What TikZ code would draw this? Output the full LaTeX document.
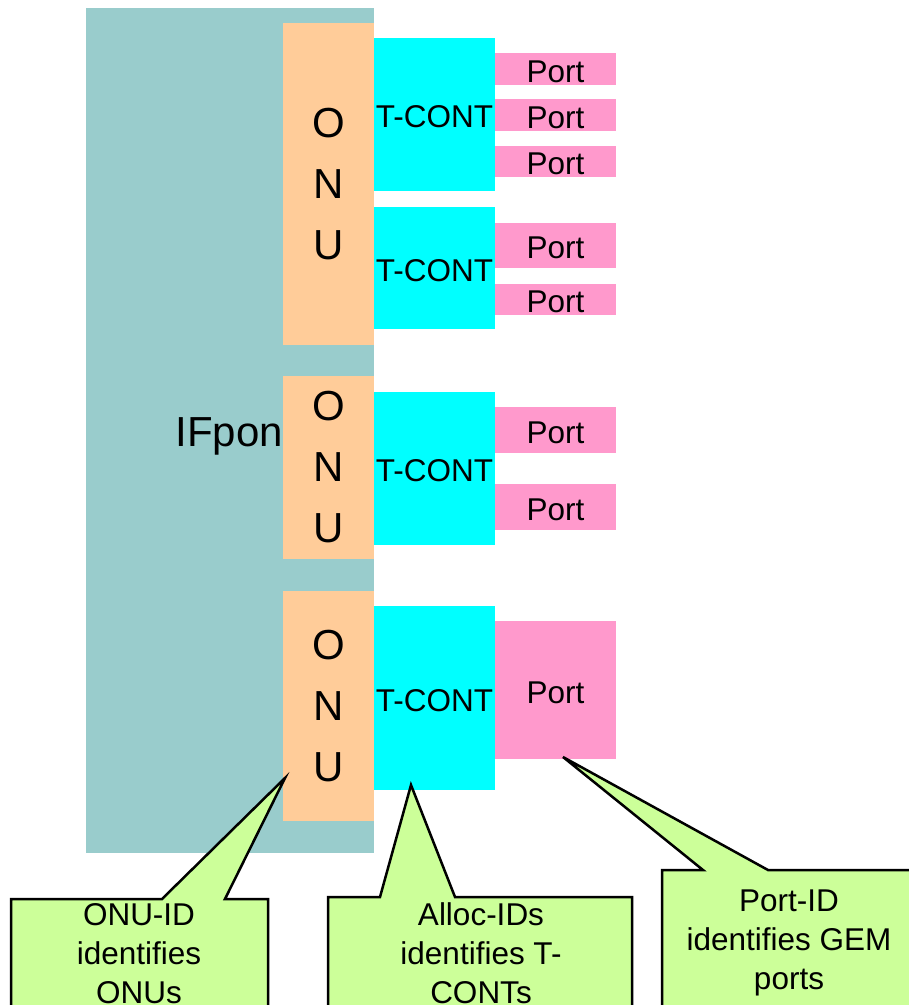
\documentclass[tikz,border=0pt]{standalone}
\usepackage{fontspec}
\setmainfont{Liberation Sans}
\definecolor{ifpon}{HTML}{99CCCC}
\definecolor{onu}{HTML}{FFCC99}
\definecolor{tcont}{HTML}{00FFFF}
\definecolor{port}{HTML}{FF99CC}
\definecolor{callout}{HTML}{CCFF99}
\begin{document}
\begin{tikzpicture}[x=1pt,y=-1pt,
  blk/.style={anchor=north west, inner sep=0pt, outer sep=0pt, draw=none},
  ifbox/.style={blk, fill=ifpon},
  onubox/.style={blk, fill=onu, align=center, font=\fontsize{42}{61}\selectfont},
  tcbox/.style={blk, fill=tcont, minimum width=121pt, text height=26pt, text depth=0pt, font=\fontsize{31.5}{38}\selectfont},
  portbox/.style={blk, fill=port, minimum width=121pt, text height=26pt, text depth=0pt, font=\fontsize{31.5}{38}\selectfont},
  calloutshape/.style={fill=callout, draw=black, line width=2.5pt, line join=miter},
  callouttext/.style={anchor=north, inner sep=0pt, align=center, font=\fontsize{31.5}{39}\selectfont}
]
\useasboundingbox (0,0) rectangle (909,1005);
\clip (0,0) rectangle (909,1005);

% IFpon
\node[ifbox, minimum width=288pt, minimum height=845pt] (ifpon) at (86,8) {};
\node[anchor=base east, inner sep=0pt, font=\fontsize{42}{50}\selectfont] (ifponlbl) at (283,446) {IFpon};

% ONUs
\node[onubox, minimum width=91pt, minimum height=322pt] (onu1) at (283,23) {O\\N\\U};
\node[onubox, minimum width=91pt, minimum height=183pt] (onu2) at (283,376) {O\\N\\U};
\node[onubox, minimum width=91pt, minimum height=230pt] (onu3) at (283,591) {O\\N\\U};

% T-CONTs
\node[tcbox, minimum height=153pt] (tc1) at (374,38) {T-CONT};
\node[tcbox, minimum height=122pt] (tc2) at (374,207) {T-CONT};
\node[tcbox, minimum height=153pt] (tc3) at (374,392) {T-CONT};
\node[tcbox, minimum height=184pt] (tc4) at (374,606) {T-CONT};

% Ports
\node[portbox, minimum height=32pt] (p1) at (495,53) {Port};
\node[portbox, minimum height=32pt] (p2) at (495,99) {Port};
\node[portbox, minimum height=31pt] (p3) at (495,146) {Port};
\node[portbox, minimum height=45pt] (p4) at (495,223) {Port};
\node[portbox, minimum height=31pt] (p5) at (495,284) {Port};
\node[portbox, minimum height=46pt] (p6) at (495,407) {Port};
\node[portbox, minimum height=46pt] (p7) at (495,484) {Port};
\node[portbox, minimum height=138pt] (p8) at (495,621) {Port};

% callout tips
\coordinate (tipA) at (285,778);
\coordinate (tipB) at (411,785);
\coordinate (tipC) at (563,757);

% Callout 1
\draw[calloutshape] (11,899) -- (162,899) -- (tipA) -- (225,899) -- (268,899)
  -- (268,1030) -- (11,1030) -- cycle;
\node[callouttext] (c1) at (139,903.5) {ONU-ID\\identifies\\ONUs};

% Callout 2
\draw[calloutshape] (328,897) -- (380,897) -- (tipB) -- (455,897) -- (632,897)
  -- (632,1030) -- (328,1030) -- cycle;
\node[callouttext] (c2) at (481,902) {Alloc-IDs\\identifies T-\\CONTs};

% Callout 3
\draw[calloutshape] (662,870) -- (703,870) -- (tipC) -- (768,870) -- (940,870)
  -- (940,1030) -- (662,1030) -- cycle;
\node[callouttext] (c3) at (789,890) {Port-ID\\identifies GEM\\ports};
\end{tikzpicture}
\end{document}
